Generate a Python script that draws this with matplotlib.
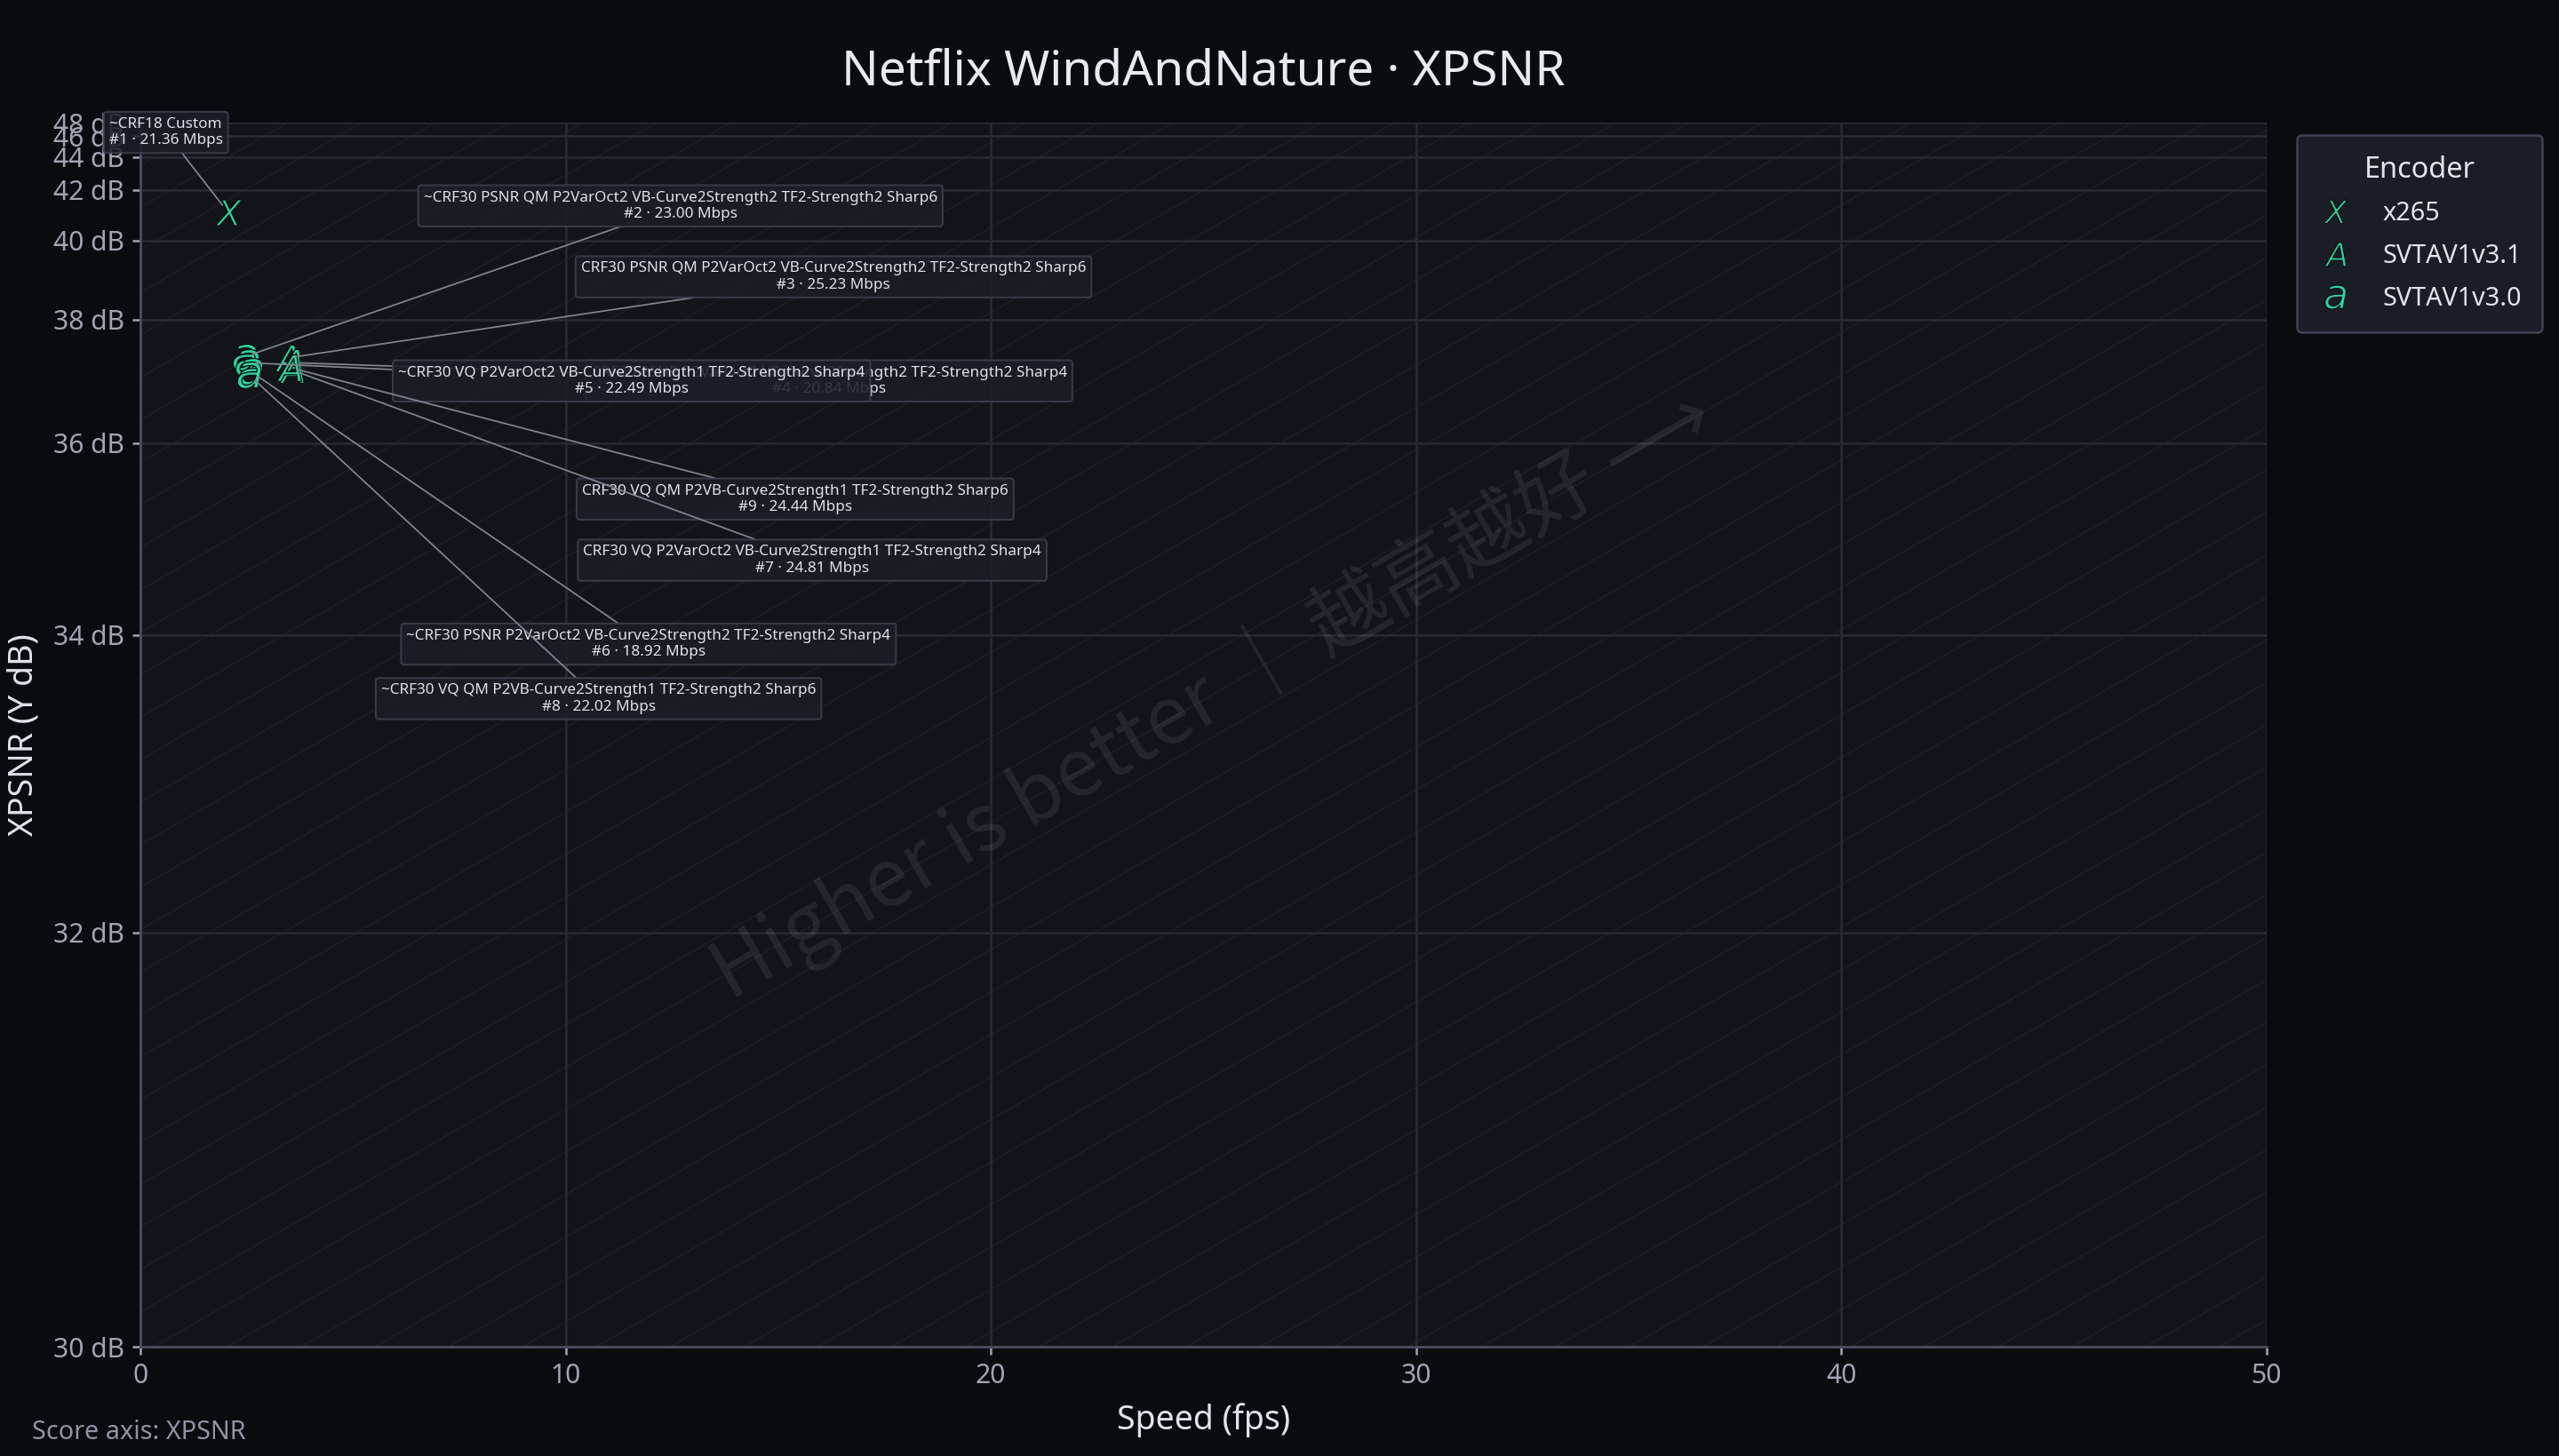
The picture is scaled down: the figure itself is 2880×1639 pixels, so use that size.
import numpy as np
import matplotlib.pyplot as plt

plt.rcParams['font.family'] = ['Noto Sans', 'DejaVu Sans']

# encoders shown in the legend, with their letter markers
encoders = ['x265', 'SVTAV1v3.1', 'SVTAV1v3.0']
enc_markers = ['$X$', '$A$', '$a$']

# one entry per labelled run
ranks = [1, 2, 3, 4, 5, 6, 7, 8, 9]
point_encoder = ['x265', 'SVTAV1v3.0', 'SVTAV1v3.1', 'SVTAV1v3.1', 'SVTAV1v3.0',
                 'SVTAV1v3.0', 'SVTAV1v3.1', 'SVTAV1v3.0', 'SVTAV1v3.1']
settings = [
    '~CRF18 Custom',
    '~CRF30 PSNR QM P2VarOct2 VB-Curve2Strength2 TF2-Strength2 Sharp6',
    'CRF30 PSNR QM P2VarOct2 VB-Curve2Strength2 TF2-Strength2 Sharp6',
    'CRF30 PSNR P2VarOct2 VB-Curve2Strength2 TF2-Strength2 Sharp4',
    '~CRF30 VQ P2VarOct2 VB-Curve2Strength1 TF2-Strength2 Sharp4',
    '~CRF30 PSNR P2VarOct2 VB-Curve2Strength2 TF2-Strength2 Sharp4',
    'CRF30 VQ P2VarOct2 VB-Curve2Strength1 TF2-Strength2 Sharp4',
    '~CRF30 VQ QM P2VB-Curve2Strength1 TF2-Strength2 Sharp6',
    'CRF30 VQ QM P2VB-Curve2Strength1 TF2-Strength2 Sharp6',
]
bitrate_mbps = [21.36, 23.00, 25.23, 20.84, 22.49, 18.92, 24.81, 22.02, 24.44]
speed_fps = [2.06, 2.45, 3.45, 3.55, 2.50, 2.60, 3.55, 2.55, 3.50]
xpsnr_db = [41.0, 37.30, 37.28, 37.20, 37.20, 37.05, 37.08, 37.00, 37.12]

y_ticks = [30, 32, 34, 36, 38, 40, 42, 44, 46, 48]
x_ticks = [0, 10, 20, 30, 40, 50]

# where each label box sits (axes fraction), and the drawing order
label_pos = [(0.012, 0.992), (0.254, 0.932), (0.326, 0.874), (0.324, 0.789),
             (0.231, 0.789), (0.239, 0.574), (0.316, 0.6425), (0.2155, 0.5295),
             (0.308, 0.6925)]
draw_order = [0, 1, 2, 3, 4, 8, 6, 5, 7]

teal = '#2fd19b'
fig_bg = '#0a0b0f'
ax_bg = '#131419'
grid_c = '#282b34'
tick_c = '#a0a5b2'

# compressed dB axis (roughly linear in error, like MSE)
K, C, S = 0.2215, 0.042, 0.7
def fwd(y):
    d = np.asarray(y, dtype=float) - 30
    g = K * d - C * (1 - np.exp(-d / S))
    return -np.exp(-g)

_grid = np.linspace(29.2, 80, 6000)
_fgrid = fwd(_grid)
def inv(v):
    return np.interp(np.asarray(v, dtype=float), _fgrid, _grid)

fig = plt.figure(figsize=(16, 1639 / 180), dpi=180, facecolor=fig_bg)
ax = fig.add_axes([158 / 2880, 1 - 1516 / 1639, 2392.7 / 2880, 1378 / 1639])
ax.set_facecolor(ax_bg)
ax.set_yscale('function', functions=(fwd, inv))

# faint diagonal hatching
for c in np.arange(-1.0, 1.0, 0.0347):
    ax.plot([c, c + 1], [0, 1], transform=ax.transAxes, color='white',
            alpha=0.035, lw=0.8, zorder=0.5)

ax.text(0.504, 0.533, 'Higher is better ｜ 越高越好 ⟶', transform=ax.transAxes,
        rotation=30, ha='center', va='center', fontsize=36, color='white',
        alpha=0.08, family=['Noto Sans CJK SC', 'DejaVu Sans'], zorder=1)

for enc, m in zip(encoders, enc_markers):
    xs = [s for s, e in zip(speed_fps, point_encoder) if e == enc]
    ys = [q for q, e in zip(xpsnr_db, point_encoder) if e == enc]
    ax.plot(xs, ys, linestyle='none', marker=m, ms=12, color=teal,
            mec='#0b0d11', mew=0.5, label=enc, zorder=4)

for i in draw_order:
    txt = f'{settings[i]}\n#{ranks[i]} · {bitrate_mbps[i]:.2f} Mbps'
    ax.annotate(txt, xy=(speed_fps[i], xpsnr_db[i]), xytext=label_pos[i],
                textcoords='axes fraction', ha='center', va='center',
                fontsize=6.85, color='#dfe2e8', annotation_clip=False, zorder=5,
                bbox=dict(boxstyle='round,pad=0.35,rounding_size=0.2',
                          fc='#1b1e26', ec='#3b404c', lw=0.8, alpha=0.88),
                arrowprops=dict(arrowstyle='-', color='#80858f', lw=0.7,
                                shrinkA=0, shrinkB=4))

ax.set_xlim(0, 50)
ax.set_ylim(30, 48)
ax.set_xticks(x_ticks)
ax.set_yticks(y_ticks)
ax.set_yticklabels([f'{t} dB' for t in y_ticks])
ax.grid(True, color=grid_c, lw=1.0, zorder=0)
ax.set_axisbelow(True)
ax.tick_params(colors=tick_c, labelsize=12, length=3.6, width=1)
for s in ['top', 'right']:
    ax.spines[s].set_visible(False)
for s in ['left', 'bottom']:
    ax.spines[s].set_color('#464b5a')
    ax.spines[s].set_linewidth(1.2)

ax.set_title('Netflix WindAndNature · XPSNR', fontsize=22, color='#e8eaf0', pad=17)
ax.set_xlabel('Speed (fps)', fontsize=15, color='#e0e3ea', labelpad=6)
ax.set_ylabel('XPSNR (Y dB)', fontsize=15, color='#e0e3ea')
ax.yaxis.set_label_coords(-0.0472, 0.5)

leg = ax.legend(title='Encoder', loc='upper left', bbox_to_anchor=(0.8976, 0.9074),
                bbox_transform=fig.transFigure, borderaxespad=0, frameon=True,
                facecolor='#1a1d25', edgecolor='#3c4250', framealpha=1,
                fontsize=11.5, title_fontsize=13, labelcolor='#e2e4ea',
                borderpad=0.8, labelspacing=0.65, handlelength=1.4,
                handletextpad=1.15, markerscale=0.9)
leg.get_title().set_color('#e2e4ea')

fig.text(36 / 2880, 1 - 1620 / 1639, 'Score axis: XPSNR', fontsize=11.5,
         color='#8f95a3', ha='left', va='baseline')

fig.savefig('out.png', dpi=180, facecolor=fig_bg)
